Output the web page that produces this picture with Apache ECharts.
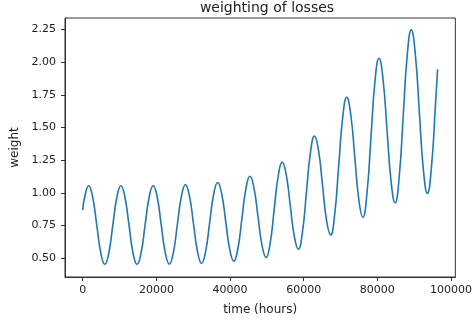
<!DOCTYPE html>
<html>
<head>
<meta charset="UTF-8">
<title>weighting of losses</title>
<script src="https://cdn.jsdelivr.net/npm/echarts@6/dist/echarts.min.js"></script>
<style>
  html, body { margin: 0; padding: 0; background: #fff; }
  #main { width: 475px; height: 321px; }
</style>
</head>
<body>
<div id="main"></div>
<script>
// time samples (hours)
var timeHours = [0,
  511, 1606, 2701, 3796, 4891, 5986, 7081, 8176, 9271, 10366,
  11461, 12556, 13651, 14746, 15841, 16936, 18031, 19126, 20221, 21316,
  22411, 23506, 24601, 25696, 26791, 27886, 28981, 30076, 31171, 32266,
  33361, 34456, 35551, 36646, 37741, 38836, 39931, 41026, 42121, 43216,
  44311, 45406, 46501, 47596, 48691, 49786, 50881, 51976, 53071, 54166,
  55261, 56356, 57451, 58546, 59641, 60736, 61831, 62926, 64021, 65116,
  66211, 67306, 68401, 69496, 70591, 71686, 72781, 73876, 74971, 76066,
  77161, 78256, 79351, 80446, 81541, 82636, 83731, 84826, 85921, 87016,
  88111, 89206, 90301, 91396, 92491, 93586, 94681, 95776,
  96360];

// weight values at those samples
var weight = [0.870,
  0.967, 1.055, 0.967, 0.755, 0.542, 0.454, 0.542, 0.755, 0.967, 1.055,
  0.967, 0.755, 0.542, 0.454, 0.542, 0.755, 0.967, 1.055, 0.967, 0.755,
  0.543, 0.455, 0.544, 0.759, 0.974, 1.063, 0.975, 0.763, 0.550, 0.462,
  0.553, 0.771, 0.990, 1.080, 0.992, 0.779, 0.566, 0.478, 0.573, 0.803,
  1.033, 1.128, 1.037, 0.817, 0.597, 0.506, 0.613, 0.871, 1.129, 1.236,
  1.138, 0.903, 0.668, 0.570, 0.697, 1.003, 1.309, 1.436, 1.325, 1.057,
  0.789, 0.678, 0.832, 1.205, 1.578, 1.732, 1.598, 1.273, 0.948, 0.814,
  0.992, 1.422, 1.852, 2.030, 1.869, 1.478, 1.087, 0.925, 1.119, 1.586,
  2.053, 2.247, 2.064, 1.622, 1.180, 0.997, 1.195, 1.672,
  1.946];

var xTicks = [0, 20000, 40000, 60000, 80000, 100000];
var yTicks = [0.5, 0.75, 1.0, 1.25, 1.5, 1.75, 2.0, 2.25];

var points = [];
for (var i = 0; i < timeHours.length; i++) {
  points.push([timeHours[i], weight[i]]);
}

var txt = '#222';
var myChart = echarts.init(document.getElementById('main'));
var option = {
  animation: false,
  title: {
    text: 'weighting of losses',
    left: 262,
    top: 1,
    padding: [0, 5, 0, 5],
    textAlign: 'center',
    textStyle: { fontFamily: 'DejaVu Sans', fontSize: 14, fontWeight: 'normal', color: txt }
  },
  grid: {
    left: 65, right: 16, top: 18, bottom: 44,
    show: true, borderColor: '#333', borderWidth: 1, backgroundColor: 'transparent'
  },
  xAxis: {
    type: 'value',
    min: -4818, max: 101178,
    name: 'time (hours)',
    nameLocation: 'middle',
    nameGap: 27,
    nameTextStyle: { fontFamily: 'DejaVu Sans', fontSize: 12, color: txt },
    axisLine: { show: true, onZero: false, lineStyle: { color: '#333', width: 1 } },
    axisTick: { show: true, length: 4, customValues: xTicks, lineStyle: { color: '#333' } },
    axisLabel: {
      customValues: xTicks, margin: 8,
      fontFamily: 'DejaVu Sans', fontSize: 11, color: txt,
      formatter: function (v) { return String(v); }
    },
    splitLine: { show: false }
  },
  yAxis: {
    type: 'value',
    min: 0.357, max: 2.338,
    name: 'weight',
    nameLocation: 'middle',
    nameGap: 38,
    nameTextStyle: { fontFamily: 'DejaVu Sans', fontSize: 12, color: txt },
    axisLine: { show: true, onZero: false, lineStyle: { color: '#333', width: 1 } },
    axisTick: { show: true, length: 4, customValues: yTicks, lineStyle: { color: '#333' } },
    axisLabel: {
      customValues: yTicks, margin: 9,
      fontFamily: 'DejaVu Sans', fontSize: 11, color: txt,
      formatter: function (v) { return v.toFixed(2); }
    },
    splitLine: { show: false }
  },
  series: [{
    type: 'line',
    data: points,
    smooth: true,
    showSymbol: false,
    lineStyle: { color: '#1f77b4', width: 1.6 }
  }]
};
myChart.setOption(option);
</script>
</body>
</html>
